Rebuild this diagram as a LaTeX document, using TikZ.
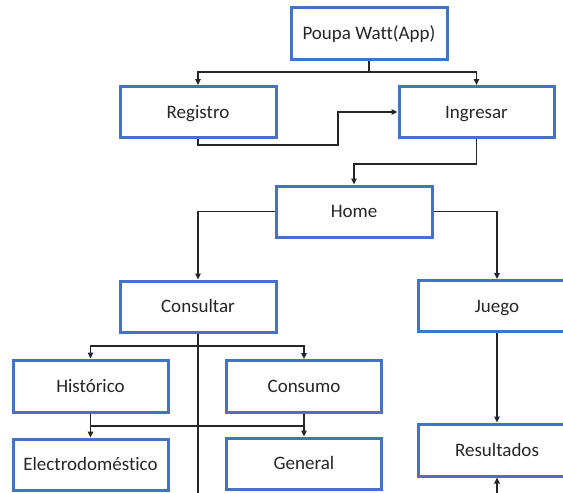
\documentclass[tikz,border=0pt]{standalone}
\usepackage{fontspec}
\setmainfont{Carlito}[Ligatures=NoCommon]
\usetikzlibrary{arrows.meta}
\definecolor{boxblue}{HTML}{4472C4}
\definecolor{ink}{HTML}{262626}
\begin{document}
\begin{tikzpicture}[x=1pt,y=-1pt,
  box/.style={draw=boxblue, line width=3pt, fill=white, rectangle,
    minimum width=156pt, minimum height=51pt, inner sep=0pt,
    text height=12.2pt, text depth=0pt,
    text=ink, font=\fontsize{19}{22}\selectfont},
  link/.style={draw=ink, line width=1.5pt},
  arr/.style={link, -{Triangle[length=6pt,width=5.5pt]}}]
\useasboundingbox (0,0) rectangle (563,493);
\clip (0,0) rectangle (563,493);

% boxes
\node[box, minimum height=52pt] (app) at (369,33) {Poupa Watt(App)};
\node[box] (reg) at (198,112) {Registro};
\node[box, minimum width=155pt] (ing) at (476.5,112) {Ingresar};
\node[box] (home) at (354,211.5) {Home};
\node[box] (cons) at (198,306.5) {Consultar};
\node[box, minimum width=158pt] (juego) at (497,306) {Juego};
\node[box, minimum width=155pt, minimum height=52pt] (hist) at (90.5,386) {Histórico};
\node[box, minimum width=155pt, minimum height=52pt] (consu) at (304,386.5) {Consumo};
\node[box, minimum width=155pt] (elec) at (90.5,464.5) {Electrodoméstico};
\node[box, minimum width=155pt] (gen) at (304,463.5) {General};
\node[box, minimum width=158pt, minimum height=52pt] (res) at (497,450) {Resultados};

% junction points
\coordinate (j1) at (369,72);
\coordinate (r1) at (338,145);
\coordinate (j2) at (198,346);
\coordinate (j3) at (198,426);
\coordinate (cend) at (198,500);
\coordinate (rin) at (497,500);

% connectors
\draw[link] (app.south) -- (j1);
\draw[arr] (j1) -| (reg.north);
\draw[arr] (j1) -| (ing.north);
\draw[arr] (reg.south) |- (r1) |- (ing.west);
\draw[arr] (ing.south) -- ++(0,25) -| (home.north);
\draw[arr] (home.west) -| (cons.north);
\draw[arr] (home.east) -| (juego.north);
\draw[link] (cons.south) -- (cend);
\draw[arr] (j2) -| (hist.north);
\draw[arr] (j2) -| (consu.north);
\draw[arr] (hist.south) -- (elec.north);
\draw[arr] (consu.south) -- (gen.north);
\draw[link] (j3 -| hist.south) -- (j3 -| consu.south);
\draw[arr] (juego.south) -- (res.north);
\draw[arr] (rin) -- (res.south);
\end{tikzpicture}
\end{document}
